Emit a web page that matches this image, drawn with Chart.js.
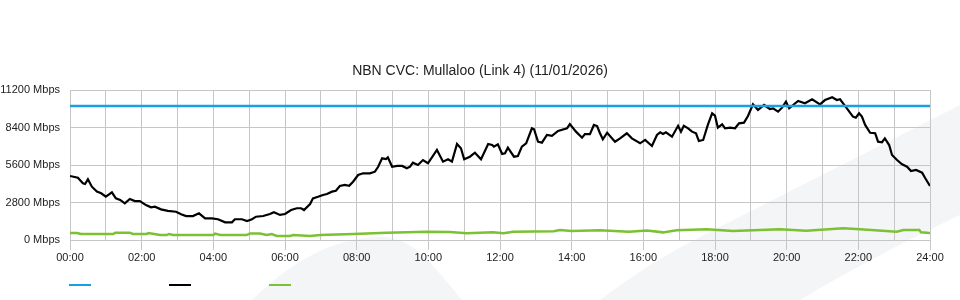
<!DOCTYPE html>
<html>
<head>
<meta charset="utf-8">
<script src="https://cdn.jsdelivr.net/npm/chart.js@4/dist/chart.umd.min.js"></script>
<style>
  html, body { margin: 0; padding: 0; background: #ffffff; }
  #wrap { width: 960px; height: 300px; position: relative; }
</style>
</head>
<body>
<div id="wrap"><canvas id="c" width="960" height="300"></canvas></div>
<script>
const chartTitle = 'NBN CVC: Mullaloo (Link 4) (11/01/2026)';
const yTicks = [0, 2800, 5600, 8400, 11200];
const xTickHours = [0, 2, 4, 6, 8, 10, 12, 14, 16, 18, 20, 22, 24];

const capacityHours = [0, 24];
const capacityMbps = [10000, 10000];

const trafficHours = [0, 0.22, 0.36, 0.42, 0.50, 0.61, 0.75, 0.87, 1.00, 1.17,
  1.28, 1.40, 1.53, 1.67, 1.81, 1.95, 2.12, 2.26, 2.37, 2.54,
  2.73, 2.96, 3.10, 3.24, 3.43, 3.60, 3.77, 3.96, 4.13, 4.33,
  4.52, 4.60, 4.80, 4.94, 5.08, 5.19, 5.39, 5.58, 5.69, 5.86,
  6.00, 6.17, 6.33, 6.45, 6.53, 6.70, 6.78, 6.92, 7.06, 7.17,
  7.31, 7.42, 7.53, 7.67, 7.79, 7.90, 8.04, 8.18, 8.37, 8.51,
  8.60, 8.71, 8.82, 8.87, 8.99, 9.13, 9.27, 9.40, 9.49, 9.57,
  9.71, 9.85, 9.99, 10.24, 10.41, 10.55, 10.66, 10.80, 10.91, 11.00,
  11.16, 11.30, 11.47, 11.67, 11.78, 11.83, 11.94, 12.06, 12.14, 12.22,
  12.39, 12.50, 12.61, 12.73, 12.89, 12.95, 13.06, 13.17, 13.31, 13.45,
  13.62, 13.87, 13.95, 14.12, 14.29, 14.37, 14.51, 14.62, 14.71, 14.79,
  14.87, 14.99, 15.21, 15.35, 15.54, 15.68, 15.91, 16.05, 16.24, 16.38,
  16.47, 16.55, 16.63, 16.80, 16.97, 17.05, 17.13, 17.25, 17.36, 17.47,
  17.55, 17.67, 17.80, 17.92, 18.00, 18.08, 18.20, 18.28, 18.42, 18.56,
  18.67, 18.81, 18.92, 19.06, 19.20, 19.37, 19.53, 19.62, 19.76, 19.87,
  19.98, 20.07, 20.18, 20.32, 20.51, 20.71, 20.93, 21.07, 21.27, 21.40,
  21.49, 21.68, 21.85, 21.93, 22.02, 22.10, 22.19, 22.33, 22.47, 22.55,
  22.66, 22.74, 22.86, 22.94, 23.08, 23.22, 23.36, 23.47, 23.61, 23.78,
  23.86, 24.00];
const trafficMbps = [4780, 4650, 4230, 4180, 4530, 3980, 3610, 3490, 3230, 3560,
  3110, 2990, 2740, 3060, 2910, 2910, 2610, 2440, 2490, 2290,
  2170, 2110, 1920, 1790, 1790, 1990, 1620, 1620, 1550, 1320,
  1320, 1550, 1550, 1420, 1550, 1740, 1790, 1940, 2070, 1870,
  1940, 2240, 2370, 2370, 2240, 2690, 3110, 3230, 3360, 3430,
  3610, 3680, 4030, 4110, 4050, 4350, 4850, 4980, 4980, 5100,
  5470, 6100, 6050, 6170, 5470, 5530, 5530, 5350, 5470, 5770,
  5600, 5970, 5730, 6720, 5850, 6030, 5850, 7170, 6850, 6030,
  6220, 6520, 6030, 7170, 7090, 6970, 7150, 6420, 6470, 6890,
  6220, 6270, 6970, 7220, 8340, 8270, 7340, 7270, 7840, 7770,
  8140, 8340, 8660, 8090, 7640, 7910, 7910, 8590, 8510, 7970,
  7520, 8010, 7340, 7590, 7970, 7590, 7220, 7470, 7020, 7840,
  8040, 7910, 8040, 7710, 8530, 8090, 8530, 8340, 8090, 7970,
  7390, 7470, 8590, 9460, 9280, 8390, 8640, 8340, 8390, 8340,
  8710, 8760, 9260, 10130, 9710, 10080, 9780, 9830, 9580, 9880,
  10330, 9830, 10080, 10380, 10210, 10510, 10130, 10450, 10660, 10450,
  10510, 9830, 9210, 9130, 9460, 9210, 8590, 8010, 7970, 7340,
  7300, 7590, 7090, 6350, 5970, 5650, 5470, 5150, 5230, 5030,
  4650, 4030];

const otherHours = [0, 0.2, 0.3, 1.21, 1.26, 1.67, 1.75, 2.14, 2.19, 2.35,
  2.51, 2.70, 2.76, 2.88, 4.0, 4.05, 4.19, 4.93, 5.02, 5.30,
  5.49, 5.63, 5.77, 6.14, 6.23, 6.70, 6.98, 7.91, 8.84, 9.95,
  10.6, 11.07, 11.8, 12.1, 12.37, 13.5, 13.67, 14.0, 14.79, 15.6,
  16.1, 16.55, 16.93, 17.77, 18.5, 19.81, 20.55, 21.58, 22.05, 23.07,
  23.26, 23.7, 23.75, 24];
const otherMbps = [520, 520, 450, 450, 550, 550, 450, 450, 520, 450,
  370, 370, 450, 370, 370, 480, 370, 370, 480, 480,
  370, 450, 300, 300, 370, 300, 370, 450, 550, 620,
  600, 500, 570, 500, 620, 650, 750, 670, 720, 620,
  700, 570, 720, 800, 670, 800, 700, 870, 800, 620,
  750, 750, 570, 520];

const seriesColors = ['#1a9fe0', '#000000', '#7cc033'];

function pts(xs, ys) { return xs.map((x, i) => ({ x: x, y: ys[i] })); }
function hh(v) { return (v < 10 ? '0' : '') + v + ':00'; }

const watermark = {
  id: 'watermark',
  beforeDraw(chart) {
    const ctx = chart.ctx;
    ctx.save();
    ctx.fillStyle = '#f4f5f7';
    ctx.beginPath();
    ctx.moveTo(600, 300);
    ctx.quadraticCurveTo(650, 262, 700, 237);
    ctx.lineTo(960, 105);
    ctx.lineTo(960, 215);
    ctx.quadraticCurveTo(870, 258, 800, 300);
    ctx.closePath();
    ctx.fill();
    ctx.beginPath();
    ctx.moveTo(252, 300);
    ctx.bezierCurveTo(290, 262, 335, 237, 380, 237);
    ctx.bezierCurveTo(410, 237, 425, 255, 462, 300);
    ctx.closePath();
    ctx.fill();
    ctx.restore();
  }
};

const lineLegend = {
  id: 'lineLegend',
  afterDraw(chart) {
    const ctx = chart.ctx;
    ctx.save();
    chart.data.datasets.forEach((ds, i) => {
      ctx.strokeStyle = ds.borderColor;
      ctx.lineWidth = 2;
      ctx.beginPath();
      ctx.moveTo(69 + 100 * i, 285);
      ctx.lineTo(91 + 100 * i, 285);
      ctx.stroke();
    });
    ctx.restore();
  }
};

const gridGrey = '#c6c6c6';

new Chart(document.getElementById('c'), {
  type: 'line',
  data: {
    datasets: [
      { label: 'Capacity', data: pts(capacityHours, capacityMbps), borderColor: seriesColors[0], backgroundColor: seriesColors[0], borderWidth: 2.5, pointRadius: 0, tension: 0 },
      { label: 'Traffic', data: pts(trafficHours, trafficMbps), borderColor: seriesColors[1], backgroundColor: seriesColors[1], borderWidth: 2.2, pointRadius: 0, tension: 0 },
      { label: 'Other', data: pts(otherHours, otherMbps), borderColor: seriesColors[2], backgroundColor: seriesColors[2], borderWidth: 2.5, pointRadius: 0, tension: 0 }
    ]
  },
  options: {
    responsive: false,
    animation: false,
    devicePixelRatio: 1,
    layout: { padding: 0 },
    plugins: {
      legend: { display: false },
      tooltip: { enabled: false },
      title: {
        display: true,
        text: chartTitle,
        color: '#222',
        font: { family: 'Liberation Sans, Arial, sans-serif', size: 14, weight: 'normal' },
        padding: { top: 62.6, bottom: 10.6 }
      }
    },
    scales: {
      x: {
        type: 'linear',
        min: 0,
        max: 24,
        afterFit(s) { s.height = 60; },
        afterBuildTicks(s) {
          const t = [];
          for (let h = 0; h <= 24; h++) t.push({ value: h });
          s.ticks = t;
        },
        ticks: {
          autoSkip: false,
          maxRotation: 0,
          padding: 1,
          color: '#222',
          font: { family: 'Liberation Sans, Arial, sans-serif', size: 11 },
          callback: v => (xTickHours.includes(v) ? hh(v) : '')
        },
        grid: {
          color: gridGrey,
          lineWidth: 1,
          tickLength: 10,
          tickColor: c => (c.tick && xTickHours.includes(c.tick.value) ? gridGrey : 'rgba(0,0,0,0)')
        },
        border: { color: gridGrey }
      },
      y: {
        min: 0,
        max: 11200,
        afterFit(s) { s.width = 70; },
        afterBuildTicks(s) { s.ticks = yTicks.map(v => ({ value: v })); },
        ticks: {
          padding: 10,
          color: '#222',
          font: { family: 'Liberation Sans, Arial, sans-serif', size: 11 },
          callback: v => v + ' Mbps'
        },
        grid: { color: gridGrey, lineWidth: 1, drawTicks: false },
        border: { color: gridGrey }
      },
      yRightSpace: {
        position: 'right',
        min: 0,
        max: 1,
        afterFit(s) { s.width = 30; },
        ticks: { display: false },
        grid: { display: false, drawTicks: false },
        border: { display: false }
      }
    }
  },
  plugins: [watermark, lineLegend]
});
</script>
</body>
</html>
